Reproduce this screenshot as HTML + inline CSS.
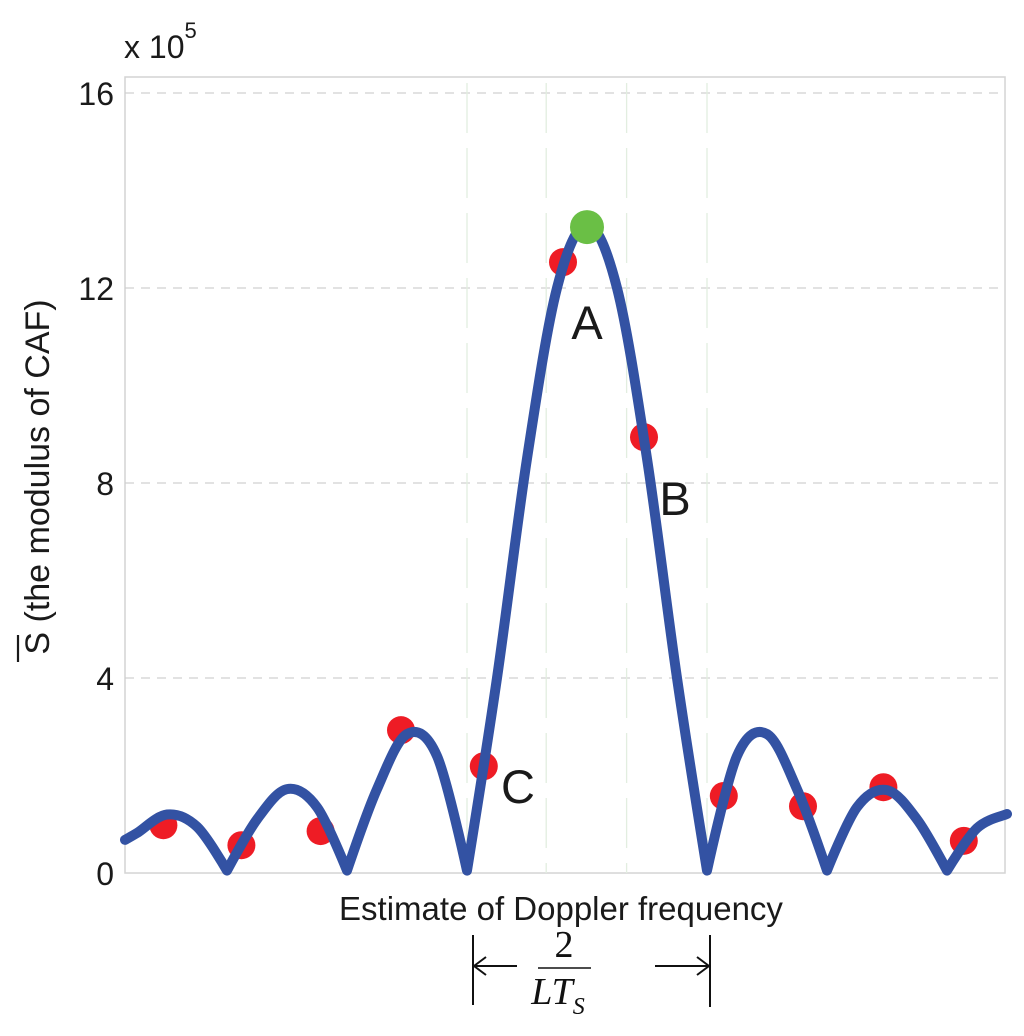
<!DOCTYPE html>
<html><head><meta charset="utf-8"><style>
html,body{margin:0;padding:0;background:#fff;}
svg{display:block;font-family:"Liberation Sans",sans-serif;}
</style></head><body>
<svg id="chart" width="1024" height="1036" viewBox="0 0 1024 1036">
  <rect x="125" y="77" width="880" height="796" fill="#fff" stroke="#d4d4d4" stroke-width="1.5"/>
  <g id="grid"></g>
  <g id="yticks"></g>
  <text x="124" y="58" font-size="32" fill="#1a1a1a">x 10<tspan dy="-20" font-size="22">5</tspan></text>
  <text transform="translate(49,477) rotate(-90)" text-anchor="middle" font-size="34" fill="#1a1a1a">S (the modulus of CAF)</text>
  <line x1="18" y1="635" x2="18" y2="662" stroke="#1a1a1a" stroke-width="2.2"/>
  <text x="561" y="920" text-anchor="middle" font-size="33" fill="#1a1a1a">Estimate of Doppler frequency</text>
  <g id="dots-g"></g>
  <g id="curve-g"></g>
  <text x="587" y="339" text-anchor="middle" font-size="47" fill="#1a1a1a">A</text>
  <text x="675" y="515" text-anchor="middle" font-size="47" fill="#1a1a1a">B</text>
  <text x="518" y="803" text-anchor="middle" font-size="47" fill="#1a1a1a">C</text>
  <g stroke="#111" stroke-width="2" fill="none">
    <line x1="473" y1="935" x2="473" y2="1005"/>
    <line x1="710" y1="935" x2="710" y2="1007"/>
    <line x1="474" y1="966" x2="517" y2="966"/>
    <polyline points="486,957 474,966 486,975"/>
    <line x1="655" y1="966" x2="709" y2="966"/>
    <polyline points="697,957 709,966 697,975"/>
    <line x1="538" y1="968" x2="591" y2="968" stroke-width="1.5"/>
  </g>
  <text x="564" y="957" text-anchor="middle" font-size="38" font-family="Liberation Serif,serif" fill="#111">2</text>
  <text x="558" y="1004" text-anchor="middle" font-size="38" font-style="italic" font-family="Liberation Serif,serif" fill="#111">LT<tspan font-size="24" dy="10">S</tspan></text>
</svg>
<script>
const yTicks = [0, 4, 8, 12, 16];
const gridFreqs = [-1, -0.34, 0.33, 1];
const curveFreqs = [-3.85,-3.75,-3.5,-3.25,-3,-2.75,-2.5,-2.25,-2,-1.75,-1.5,-1.25,-1,-0.75,-0.5,-0.25,0,0.25,0.5,0.75,1,1.25,1.5,1.75,2,2.25,2.5,2.75,3,3.25,3.5];
const curveValues = [0.68,0.82,1.2,0.95,0.05,1.1,1.72,1.35,0.05,1.72,2.85,2.4,0.05,4.0,8.5,12.0,13.3,12.0,8.5,4.0,0.05,2.4,2.85,1.72,0.05,1.35,1.7,1.1,0.05,0.92,1.21];
const dotFreqs = [-3.53,-2.88,-2.22,-1.55,-0.86,-0.2,0.475,1.14,1.8,2.47,3.14];
const dotValues = [0.98,0.57,0.86,2.93,2.19,12.53,8.94,1.58,1.37,1.76,0.66];
const peakFreq = 0;
const peakValue = 13.25;

const NS = 'http://www.w3.org/2000/svg';
const fx = f => 587 + f * 120;
const vy = v => 873 - v * 48.75;
function mk(tag, attrs, parent){ const e = document.createElementNS(NS, tag); for (const k in attrs) e.setAttribute(k, attrs[k]); parent.appendChild(e); return e; }

const grid = document.getElementById('grid');
yTicks.forEach(t => {
  if (t > 0) {
    const l = mk('line', {x1:125, x2:1005, y1:vy(t), y2:vy(t), stroke:'#d0d0d0', 'stroke-width':1.3, 'stroke-dasharray':'9,7'}, grid);
    
    
  }
  const tx = mk('text', {x:114, y:vy(t)+12, 'text-anchor':'end', 'font-size':32, fill:'#1a1a1a'}, document.getElementById('yticks'));
  tx.textContent = t;
  
  
});
gridFreqs.forEach(f => {
  const l = mk('line', {x1:fx(f), x2:fx(f), y1:83, y2:873, stroke:'#e2eee0', 'stroke-width':1.3, 'stroke-dasharray':'50,15'}, grid);
  
  
});

const pts = curveFreqs.map((f,i) => [fx(f), vy(curveValues[i])]);
let d = 'M' + pts[0][0] + ',' + pts[0][1];
for (let i = 0; i < pts.length - 1; i++) {
  const p0 = pts[Math.max(0,i-1)], p1 = pts[i], p2 = pts[i+1], p3 = pts[Math.min(pts.length-1,i+2)];
  const sharp1 = curveValues[i] < 0.1, sharp2 = curveValues[i+1] < 0.1;
  const c1 = sharp1 ? p1 : [p1[0]+(p2[0]-p0[0])/6, p1[1]+(p2[1]-p0[1])/6];
  const c2 = sharp2 ? p2 : [p2[0]-(p3[0]-p1[0])/6, p2[1]-(p3[1]-p1[1])/6];
  d += ' C' + c1[0] + ',' + c1[1] + ' ' + c2[0] + ',' + c2[1] + ' ' + p2[0] + ',' + p2[1];
}
const curveG = document.getElementById('curve-g');
const dotsG = document.getElementById('dots-g');
dotFreqs.forEach((f,i) => {
  const c = mk('circle', {cx:fx(f), cy:vy(dotValues[i]), r:14, fill:'#ee1c25'}, dotsG);
  
  
});
const path = mk('path', {d:d, fill:'none', stroke:'#3352a3', 'stroke-width':10, 'stroke-linejoin':'round', 'stroke-linecap':'round'}, curveG);


const pk = mk('circle', {cx:fx(peakFreq), cy:vy(peakValue), r:17, fill:'#6abf45'}, document.getElementById('chart'));


</script>
</body></html>
